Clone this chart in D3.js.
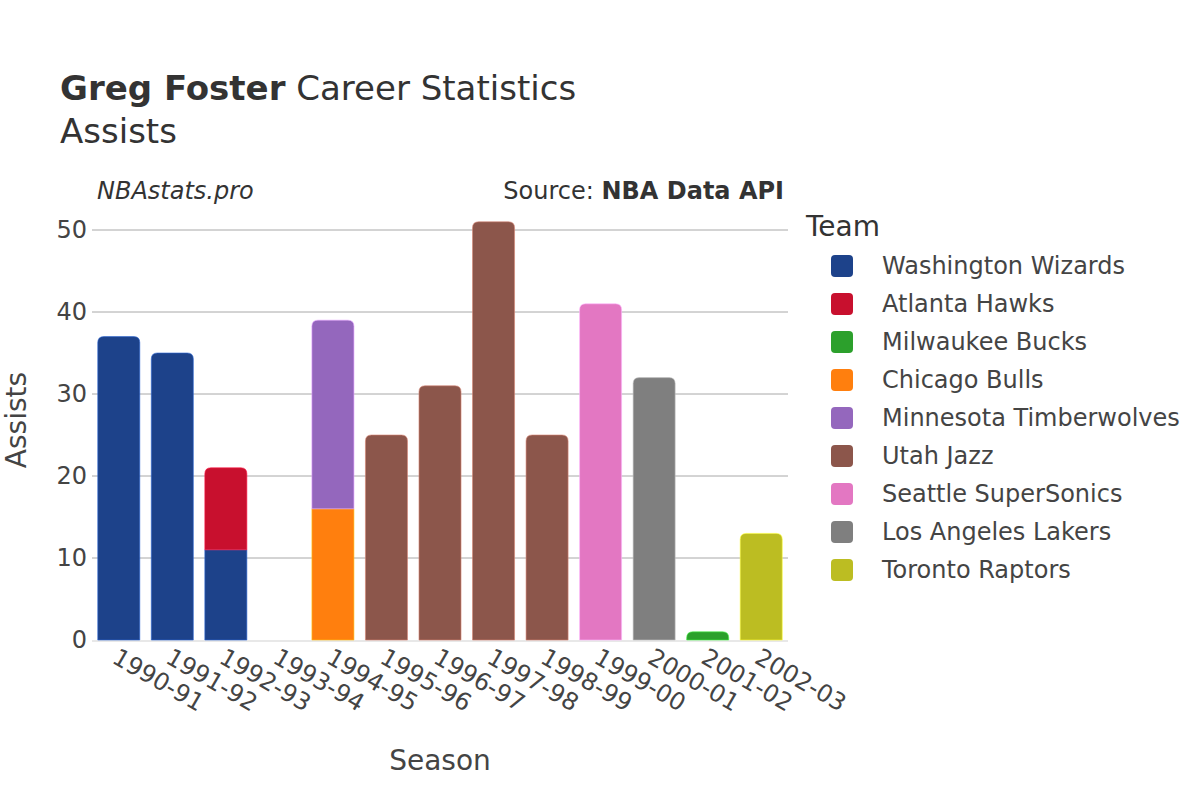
<!DOCTYPE html>
<html>
<head>
<meta charset="utf-8">
<script src="https://cdn.jsdelivr.net/npm/d3@7"></script>
<style>
  body { margin: 0; background: #fff; }
  svg { font-family: "DejaVu Sans", sans-serif; }
</style>
</head>
<body>
<svg id="chart" width="1200" height="800"></svg>
<script>
const seasons = ["1990-91","1991-92","1992-93","1993-94","1994-95","1995-96","1996-97","1997-98","1998-99","1999-00","2000-01","2001-02","2002-03"];
const teams = ["Washington Wizards","Atlanta Hawks","Milwaukee Bucks","Chicago Bulls","Minnesota Timberwolves","Utah Jazz","Seattle SuperSonics","Los Angeles Lakers","Toronto Raptors"];
const teamColors = ["#1d428a","#c8102e","#2ca02c","#ff7f0e","#9467bd","#8c564b","#e377c2","#7f7f7f","#bcbd22"];
// assists per season for each team (same order as seasons)
const washington = [37,35,11,0,0,0,0,0,0,0,0,0,0];
const atlanta    = [0,0,10,0,0,0,0,0,0,0,0,0,0];
const milwaukee  = [0,0,0,0,0,0,0,0,0,0,0,1,0];
const chicago    = [0,0,0,0,16,0,0,0,0,0,0,0,0];
const minnesota  = [0,0,0,0,23,0,0,0,0,0,0,0,0];
const utah       = [0,0,0,0,0,25,31,51,25,0,0,0,0];
const seattle    = [0,0,0,0,0,0,0,0,0,41,0,0,0];
const lakers     = [0,0,0,0,0,0,0,0,0,0,32,0,0];
const toronto    = [0,0,0,0,0,0,0,0,0,0,0,0,13];
const yTicks = [0,10,20,30,40,50];

const seriesValues = [washington,atlanta,milwaukee,chicago,minnesota,utah,seattle,lakers,toronto];

const svg = d3.select("#chart");
const margin = {left: 92, right: 788, top: 215, bottom: 640};

const x = d3.scaleBand().domain(seasons).range([margin.left, margin.right]).paddingInner(0.215).paddingOuter(0.1075);
const y = d3.scaleLinear().domain([0, 52.5]).range([margin.bottom, margin.bottom - 52.5*8.2]);

// gridlines
svg.append("g").selectAll("line").data(yTicks.filter(d => d > 0)).join("line")
  .attr("x1", margin.left).attr("x2", margin.right)
  .attr("y1", d => y(d)).attr("y2", d => y(d))
  .attr("stroke", "#a8a8a8").attr("stroke-width", 1);

// zero line
svg.append("line").attr("x1", margin.left).attr("x2", margin.right)
  .attr("y1", y(0)+1).attr("y2", y(0)+1).attr("stroke", "#e8e8e8").attr("stroke-width", 2);

// y axis
const yAxis = d3.axisLeft(y).tickValues(yTicks).tickSize(0).tickPadding(4);
const gy = svg.append("g").attr("transform", `translate(${margin.left-1},0)`).call(yAxis);
gy.select(".domain").remove();
gy.selectAll("text").attr("font-size", 24).attr("fill", "#444").attr("font-family", "DejaVu Sans");

// x axis
const xAxis = d3.axisBottom(x).tickSize(0);
const gx = svg.append("g").attr("transform", `translate(0,${margin.bottom})`).call(xAxis);
gx.select(".domain").remove();
gx.selectAll("text")
  .attr("font-size", 24).attr("fill", "#444").attr("font-family", "DejaVu Sans")
  .attr("text-anchor", "start")
  .attr("dy", null).attr("y", 0)
  .attr("transform", "translate(-8,22) rotate(30)");

// stack
const rows = seasons.map((s, i) => {
  const r = {season: s};
  teams.forEach((t, j) => r[t] = seriesValues[j][i]);
  return r;
});
const stack = d3.stack().keys(teams)(rows);

// determine top segment for each season
const topIndex = seasons.map((s, i) => {
  let top = -1;
  teams.forEach((t, j) => { if (seriesValues[j][i] > 0) top = j; });
  return top;
});

function barPath(x0, w, y0, y1, r) {
  const h = y0 - y1;
  r = Math.min(r, h, w/2);
  return `M${x0},${y0}V${y1 + r}Q${x0},${y1} ${x0 + r},${y1}H${x0 + w - r}Q${x0 + w},${y1} ${x0 + w},${y1 + r}V${y0}Z`;
}

const bars = svg.append("g");
stack.forEach((layer, j) => {
  layer.forEach((d, i) => {
    const v = d[1] - d[0];
    if (v <= 0) return;
    const x0 = x(seasons[i]);
    const w = x.bandwidth();
    const yb = y(d[0]);
    const yt = y(d[1]);
    const rad = topIndex[i] === j ? 6 : 0;
    bars.append("path")
      .attr("d", barPath(x0, w, yb, yt, rad))
      .attr("fill", teamColors[j])
      .attr("stroke", d3.color(teamColors[j]).brighter(1.2))
      .attr("stroke-opacity", 0.6)
      .attr("stroke-width", 1);
  });
});

// Title
const title = svg.append("text").attr("x", 60).attr("y", 100).attr("font-size", 34).attr("fill", "#333");
title.append("tspan").attr("font-weight", "bold").text("Greg Foster");
title.append("tspan").text(" Career Statistics");
svg.append("text").attr("x", 60).attr("y", 143).attr("font-size", 34).attr("fill", "#333").text("Assists");

// Subtitles
svg.append("text").attr("x", 97).attr("y", 199).attr("font-size", 24).attr("font-style", "italic").attr("fill", "#333").text("NBAstats.pro");
const src = svg.append("text").attr("x", 784).attr("y", 199).attr("font-size", 24).attr("text-anchor", "end").attr("fill", "#333");
src.append("tspan").text("Source: ");
src.append("tspan").attr("font-weight", "bold").text("NBA Data API");

// Axis titles
svg.append("text").attr("x", 440).attr("y", 770).attr("text-anchor", "middle").attr("font-size", 28).attr("fill", "#444").text("Season");
svg.append("text").attr("transform", `translate(26,420) rotate(-90)`).attr("text-anchor", "middle").attr("font-size", 28).attr("fill", "#444").text("Assists");

// Legend
const legend = svg.append("g");
legend.append("text").attr("x", 806).attr("y", 236).attr("font-size", 28).attr("fill", "#333").text("Team");
const li = legend.selectAll("g.item").data(teams).join("g").attr("class", "item")
  .attr("transform", (d, i) => `translate(0,${266 + i*38})`);
li.append("rect").attr("x", 831).attr("y", -11).attr("width", 22).attr("height", 22).attr("rx", 4)
  .attr("fill", (d, i) => teamColors[i]);
li.append("text").attr("x", 882).attr("y", 8).attr("font-size", 24).attr("fill", "#444").text(d => d);
</script>
</body>
</html>
